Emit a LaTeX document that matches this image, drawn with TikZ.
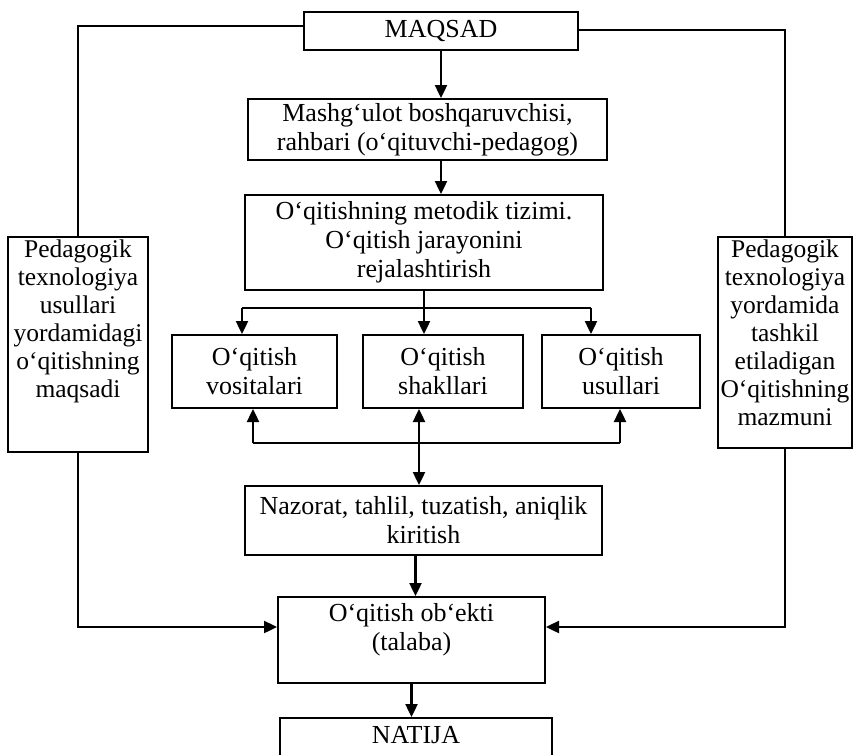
\documentclass[tikz,border=0pt]{standalone}
\usepackage{fontspec}
\setmainfont{Liberation Serif}
\usetikzlibrary{arrows.meta}
\begin{document}
\begin{tikzpicture}[x=1pt,y=-1pt,
  box/.style={draw, line width=2pt, inner sep=0pt, align=center, font=\fontsize{26}{29}\selectfont},
  txt/.style={inner sep=0pt, align=center, font=\fontsize{26}{29}\selectfont},
  stxt/.style={inner sep=0pt, align=center, font=\fontsize{25.5}{28}\selectfont},
  conn/.style={line width=2.4pt},
  arr/.style={line width=2.4pt, -{Triangle[length=13pt,width=12pt]}},
  darr/.style={line width=2.4pt, {Triangle[length=13pt,width=12pt]}-{Triangle[length=13pt,width=12pt]}}]
\useasboundingbox (0,0) rectangle (855,755);
\fill[white] (0,0) rectangle (855,755);

\node[box, minimum width=274pt, minimum height=38pt] (maqsad) at (441,31) {MAQSAD};
\node[box, minimum width=359pt, minimum height=61pt] (rahbar) at (427.5,129.5) {Mashg‘ulot boshqaruvchisi,\\rahbari (o‘qituvchi-pedagog)};
\node[box, minimum width=358pt, minimum height=95pt] (tizim) at (424,242.5) {O‘qitishning metodik tizimi.\\O‘qitish jarayonini\\rejalashtirish};
\node[box, minimum width=165pt, minimum height=73pt] (vosita) at (254.5,371.5) {O‘qitish\\vositalari};
\node[box, minimum width=160pt, minimum height=73pt] (shakl) at (443,371.5) {O‘qitish\\shakllari};
\node[box, minimum width=158pt, minimum height=73pt] (usul) at (621,371.5) {O‘qitish\\usullari};
\node[box, minimum width=357pt, minimum height=69pt] (nazorat) at (423.5,520.5) {Nazorat, tahlil, tuzatish, aniqlik\\kiritish};
\node[box, minimum width=267pt, minimum height=86pt] (obyekt) at (411.5,640) {};
\node[txt, anchor=north] (obyektt) at ([yshift=-7pt]obyekt.north) {O‘qitish ob‘ekti\\(talaba)};
\node[box, minimum width=272pt, minimum height=50pt] (natija) at (416,743) {};
\node[txt] (natijat) at (416,735) {NATIJA};

\node[box, minimum width=140pt, minimum height=215pt] (lbox) at (78,344.5) {};
\node[stxt, anchor=north] (lboxt) at ([yshift=-4pt]lbox.north) {Pedagogik\\texnologiya\\usullari\\yordamidagi\\o‘qitishning\\maqsadi};
\node[box, minimum width=134pt, minimum height=211pt] (rbox) at (785,342.5) {};
\node[stxt, anchor=north] (rboxt) at ([yshift=-4pt]rbox.north) {Pedagogik\\texnologiya\\yordamida\\tashkil\\etiladigan\\O‘qitishning\\mazmuni};

\draw[conn] ([yshift=5pt]maqsad.west) -| (lbox.north);
\draw[conn] ([yshift=1pt]maqsad.east) -| (rbox.north);
\draw[arr] (maqsad.south) -- (maqsad.south |- rahbar.north);
\draw[arr] (maqsad.south |- rahbar.south) -- (maqsad.south |- tizim.north);

\coordinate (bar1) at (424,308);
\coordinate (b1l) at (242,308);
\coordinate (b1r) at (591,308);
\draw[conn] (tizim.south) -- (bar1);
\draw[conn] (b1l) -- (b1r);
\draw[arr] (b1l) -- (b1l |- vosita.north);
\draw[arr] (bar1) -- (bar1 |- shakl.north);
\draw[arr] (b1r) -- (b1r |- usul.north);

\coordinate (b2l) at (253,443);
\coordinate (b2m) at (419,443);
\coordinate (b2r) at (620,443);
\draw[conn] (b2l) -- (b2r);
\draw[arr] (b2l) -- (b2l |- vosita.south);
\draw[arr] (b2r) -- (b2r |- usul.south);
\draw[darr] (b2m |- shakl.south) -- (b2m |- nazorat.north);

\draw[arr] ([xshift=-8pt]nazorat.south) -- ([xshift=-8pt]nazorat.south |- obyekt.north);
\draw[arr] (obyekt.south) -- (obyekt.south |- natija.north);
\draw[arr] (lbox.south) |- ([yshift=13pt]obyekt.west);
\draw[arr] (rbox.south) |- ([yshift=13pt]obyekt.east);
\end{tikzpicture}
\end{document}
